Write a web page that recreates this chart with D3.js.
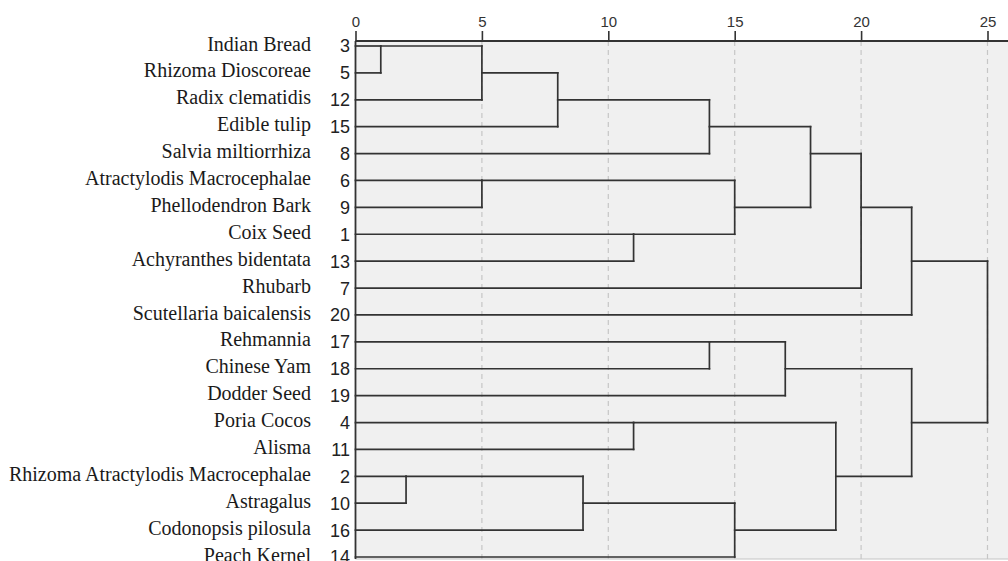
<!DOCTYPE html>
<html>
<head>
<meta charset="utf-8">
<script src="https://cdn.jsdelivr.net/npm/d3@7"></script>
<style>
  html, body { margin: 0; padding: 0; background: #ffffff; }
  svg { display: block; }
</style>
</head>
<body>
<script>
// ---- Data ----
const leafIds = ["3","5","12","15","8","6","9","1","13","7","20","17","18","19","4","11","2","10","16","14"];
const leafNames = ["Indian Bread","Rhizoma Dioscoreae","Radix clematidis","Edible tulip","Salvia miltiorrhiza",
  "Atractylodis Macrocephalae","Phellodendron Bark","Coix Seed","Achyranthes bidentata","Rhubarb",
  "Scutellaria baicalensis","Rehmannia","Chinese Yam","Dodder Seed","Poria Cocos","Alisma",
  "Rhizoma Atractylodis Macrocephalae","Astragalus","Codonopsis pilosula","Peach Kernel"];
// merge steps: node "c{i+1}" = mergeLeft[i] + mergeRight[i] at mergeHeight[i]
const mergeLeft   = ["3","c1","c2","c3","6","1","c5","c4","c8","c9","17","c11","4","2","c14","c15","c13","c12","c10"];
const mergeRight  = ["5","12","15","8","9","13","c6","c7","7","20","18","19","11","10","16","14","c16","c17","c18"];
const mergeHeight = [1,5,8,14,5,11,15,18,20,22,14,17,11,2,9,15,19,22,25];
const tickValues = [0,5,10,15,20,25];

// ---- Build tree ----
const nodes = {};
leafIds.forEach((id, i) => { nodes[id] = { id, height: 0, row: i, leaf: true }; });
mergeLeft.forEach((l, i) => {
  const id = "c" + (i + 1);
  const a = nodes[l], b = nodes[mergeRight[i]];
  const n = { id, height: mergeHeight[i], children: [a, b], leaf: false };
  n.row = Math.floor((a.row + b.row) / 2);
  a.parent = n; b.parent = n;
  nodes[id] = n;
});
const rootId = "c" + mergeLeft.length;
const root = d3.hierarchy(nodes[rootId], d => d.children);

// ---- Layout ----
const W = 1008, H = 561;
const svg = d3.select("body").append("svg").attr("width", W).attr("height", H);
const x = d3.scaleLinear().domain([0, 25]).range([355.5, 987.5]);
const y = d3.scaleLinear().domain([0, leafIds.length - 1]).range([46, 557]);
const panelTop = 41, panelBottom = 559;

// panel
svg.append("rect")
  .attr("x", x(0)).attr("y", panelTop)
  .attr("width", W - x(0)).attr("height", panelBottom - panelTop)
  .attr("fill", "#f0f0f0");
svg.append("line")
  .attr("x1", x(0)).attr("x2", W).attr("y1", panelBottom).attr("y2", panelBottom)
  .attr("stroke", "#c4c4c4").attr("stroke-width", 1);

// grid
svg.append("g").selectAll("line")
  .data(tickValues.filter(t => t > 0))
  .join("line")
  .attr("x1", d => x(d)).attr("x2", d => x(d))
  .attr("y1", panelTop).attr("y2", panelBottom)
  .attr("stroke", "#c6c6c6").attr("stroke-width", 1.2)
  .attr("stroke-dasharray", "5,4");

// top axis
const axis = d3.axisTop(x).tickValues(tickValues).tickSize(10).tickSizeOuter(0).tickPadding(4);
const gAxis = svg.append("g").attr("transform", `translate(0,${panelTop})`).call(axis);
gAxis.select(".domain").remove();
gAxis.selectAll(".tick line").attr("stroke", "#333").attr("stroke-width", 1.6);
gAxis.selectAll(".tick text")
  .attr("font-family", "'Liberation Sans', Arial, sans-serif")
  .attr("font-size", 15).attr("fill", "#333");
svg.append("line")
  .attr("x1", x(0)).attr("x2", W).attr("y1", panelTop).attr("y2", panelTop)
  .attr("stroke", "#333").attr("stroke-width", 1.8);
svg.append("line")
  .attr("x1", x(0)).attr("x2", x(0)).attr("y1", panelTop).attr("y2", panelBottom)
  .attr("stroke", "#333").attr("stroke-width", 1.8);

// dendrogram segments
const segs = [];
root.each(d => {
  const n = d.data;
  if (d.parent) {
    segs.push({ x1: n.height, x2: d.parent.data.height, y1: n.row, y2: n.row });
  }
  if (d.children) {
    segs.push({ x1: n.height, x2: n.height, y1: d.children[0].data.row, y2: d.children[1].data.row });
  }
});
svg.append("g").selectAll("line")
  .data(segs)
  .join("line")
  .attr("x1", d => x(d.x1)).attr("x2", d => x(d.x2))
  .attr("y1", d => y(d.y1)).attr("y2", d => y(d.y2))
  .attr("stroke", "#333").attr("stroke-width", 1.7)
  .attr("stroke-linecap", "square");

// leaf numbers
svg.append("g").selectAll("text")
  .data(leafIds)
  .join("text")
  .attr("x", 350).attr("y", (d, i) => y(i))
  .attr("dy", "0.36em")
  .attr("text-anchor", "end")
  .attr("font-family", "'Liberation Sans', Arial, sans-serif")
  .attr("font-size", 18).attr("fill", "#222")
  .text(d => d);

// leaf names
svg.append("g").selectAll("text")
  .data(leafNames)
  .join("text")
  .attr("x", 311).attr("y", (d, i) => y(i) - 2)
  .attr("dy", "0.33em")
  .attr("text-anchor", "end")
  .attr("font-family", "'Liberation Serif', 'Times New Roman', serif")
  .attr("font-size", 20).attr("fill", "#1a1a1a")
  .text(d => d);
</script>
</body>
</html>
